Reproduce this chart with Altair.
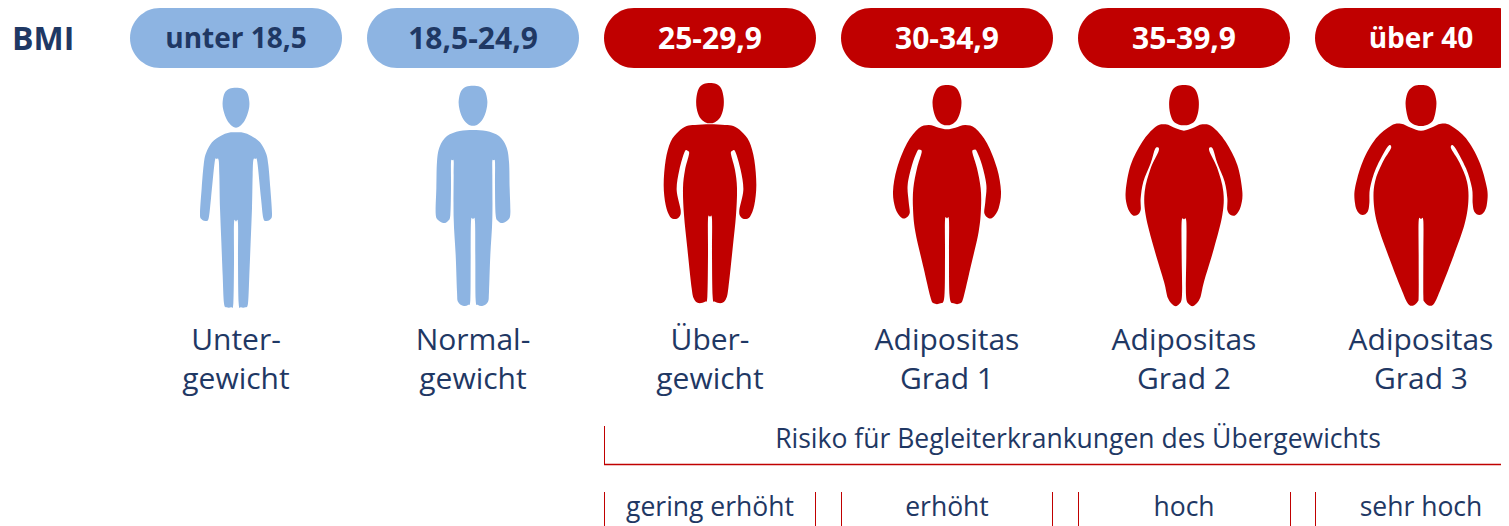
import altair as alt
import pandas as pd

NAVY = "#1F3864"
BLUE = "#8DB4E2"
RED = "#C00000"
FONT = "Open Sans"

# ---- values ----
bmi_labels = ["unter 18,5", "18,5-24,9", "25-29,9", "30-34,9", "35-39,9", "über 40"]
bmi_font_sizes = [28, 30, 30, 30, 30, 28]
class_line1 = ["Unter-", "Normal-", "Über-", "Adipositas", "Adipositas", "Adipositas"]
class_line2 = ["gewicht", "gewicht", "gewicht", "Grad 1", "Grad 2", "Grad 3"]
groups = ["u", "n", "ue", "a1", "a2", "a3"]
centers = [236, 473, 710, 947, 1184, 1421]
pill_half = 106
pill_colors = [BLUE, BLUE, RED, RED, RED, RED]
label_colors = [NAVY, NAVY, "#FFFFFF", "#FFFFFF", "#FFFFFF", "#FFFFFF"]
risk_labels = ["gering erhöht", "erhöht", "hoch", "sehr hoch"]
risk_centers = [710, 947, 1184, 1421]
risk_ticks = [604.5, 815.5, 841.5, 1052.5, 1078.5, 1290.5, 1315.5]
risk_title = "Risiko für Begleiterkrankungen des Übergewichts"

# ---- pictogram outlines: right half profile (offset from axis, height) in 1/3 px ----
heads = {
    "u": [(0,38),(20,41),(34,54),(40,80),(38,105),(27,135),(12,153),(0,158)],
    "n": [(0,32),(21,35),(36,49),(43,78),(40,105),(29,133),(13,149),(0,152)],
    "ue": [(0,24),(19,27),(34,41),(41,70),(40,100),(31,127),(15,142),(0,145)],
    "a1": [(0,30),(19,33),(34,47),(43,75),(41,105),(31,133),(15,148),(0,151)],
    "a2": [(0,30),(20,33),(36,47),(44,75),(43,108),(33,137),(15,149),(0,151)],
    "a3": [(0,30),(21,33),(38,49),(46,78),(44,108),(35,138),(15,151),(0,153)],
}
bodies = {
    "u": [(0,172),(22,173),(45,182),(72,202),(90,235),(97,270),(103,340),(108,415),(104,432),(92,438),(82,430),
          (75,370),(64,262),(58,252),(52,256),(50,300),(48,400),(44,500),(40,600),(36,685),(28,697),
          (15,697),(8,685),(6,560),(6,445),(0,440)],
    "n": [(0,165),(40,168),(78,183),(100,215),(108,260),(110,340),(112,415),(105,435),(88,444),(75,438),
          (68,420),(66,340),(66,262),(62,256),(58,258),(58,300),(58,430),(52,540),(48,650),(45,680),
          (30,692),(15,690),(8,675),(7,560),(6,440),(0,433)],
    "ue": [(0,148),(45,150),(70,153),(95,170),(118,200),(133,255),(139,330),(133,390),(120,425),(105,432),(92,425),
           (88,405),(100,345),(92,285),(76,230),(66,228),(63,238),(75,285),(81,340),(78,420),(68,520),
           (55,640),(48,672),(35,684),(15,680),(8,665),(6,540),(6,432),(0,425)],
    "a1": [(0,163),(25,158),(55,150),(85,160),(120,205),(150,280),(162,350),(155,400),(140,425),(125,430),
           (112,415),(115,380),(118,330),(105,270),(90,230),(82,224),(76,232),(90,280),(101,340),(102,400),
           (95,470),(70,580),(50,665),(40,685),(20,685),(8,665),(6,540),(6,436),(0,430)],
    "a2": [(0,167),(25,160),(55,148),(85,155),(125,200),(160,270),(175,350),(170,395),(155,420),(140,420),
           (130,405),(130,370),(122,320),(100,265),(88,225),(80,217),(76,228),(100,280),(118,350),(115,420),
           (90,520),(60,620),(48,670),(30,692),(15,688),(6,660),(7,540),(7,440),(0,433)],
    "a3": [(0,167),(30,158),(60,146),(90,152),(135,190),(175,260),(198,340),(198,385),(190,410),(175,420),
           (160,410),(155,385),(153,340),(135,280),(100,215),(90,220),(115,262),(138,320),(142,380),(130,450),
           (95,550),(60,640),(40,685),(25,692),(10,680),(7,660),(7,540),(7,438),(0,432)],
}


def closed_smooth(points):
    """Closed Catmull-Rom outline as an SVG path string, centred vertically on 300."""
    n = len(points)
    pts = [(x, y - 300) for x, y in points]
    d = f"M{pts[0][0]},{pts[0][1]}"
    for i in range(n):
        p0, p1, p2, p3 = pts[i - 1], pts[i], pts[(i + 1) % n], pts[(i + 2) % n]
        c1 = (p1[0] + (p2[0] - p0[0]) / 6, p1[1] + (p2[1] - p0[1]) / 6)
        c2 = (p2[0] - (p3[0] - p1[0]) / 6, p2[1] - (p3[1] - p1[1]) / 6)
        d += f"C{c1[0]:.1f},{c1[1]:.1f} {c2[0]:.1f},{c2[1]:.1f} {p2[0]},{p2[1]}"
    return d + "Z"


def mirrored(profile):
    left = [(-x, y) for x, y in reversed(profile) if x != 0]
    return closed_smooth(profile + left)


figure_paths = [mirrored(heads[g]) + mirrored(bodies[g]) for g in groups]

# ---- tables ----
pills = pd.DataFrame({
    "label": bmi_labels, "x": [c - pill_half for c in centers], "x2": [c + pill_half for c in centers],
    "cx": centers, "fill": pill_colors, "ink": label_colors, "top": 8, "bottom": 68, "mid": 40,
    "fs": bmi_font_sizes,
})
figures = pd.DataFrame({"group": groups, "cx": centers, "y": 175, "fill": pill_colors})
lines = pd.DataFrame({"cx": centers * 2, "text": class_line1 + class_line2,
                      "y": [341] * 6 + [380] * 6})
risk = pd.DataFrame({"cx": risk_centers, "text": risk_labels, "y": 508})
ticks = pd.DataFrame({"x": risk_ticks, "y": 492, "y2": 526})

X = alt.Scale(domain=[8, 1501], nice=False, zero=False)
Y = alt.Scale(domain=[526, 8], nice=False, zero=False)
xe = lambda f: alt.X(f, type="quantitative", scale=X, axis=None)
ye = lambda f: alt.Y(f, type="quantitative", scale=Y, axis=None)
ident = lambda f: alt.Color(f, type="nominal", scale=None, legend=None)

pill_bars = alt.Chart(pills).mark_bar(cornerRadius=30, clip=True).encode(
    x=xe("x"), x2="x2", y=ye("top"), y2="bottom", color=ident("fill"))
pill_text = alt.Chart(pills).mark_text(font=FONT, fontWeight="bold", baseline="middle").encode(
    x=xe("cx"), y=ye("mid"), text="label:N", color=ident("ink"),
    size=alt.Size("fs:Q", scale=None, legend=None))
bmi = alt.Chart(pd.DataFrame({"x": [12], "y": [40], "t": ["BMI"]})).mark_text(
    font=FONT, fontSize=32, fontWeight="bold", baseline="middle", align="left", color=NAVY).encode(
    x=xe("x"), y=ye("y"), text="t:N")
people = alt.Chart(figures).mark_point(filled=True, size=4 / 9, opacity=1).encode(
    x=xe("cx"), y=ye("y"), color=ident("fill"),
    shape=alt.Shape("group:N", scale=alt.Scale(domain=groups, range=figure_paths), legend=None))
class_text = alt.Chart(lines).mark_text(font=FONT, fontSize=30, baseline="middle", color=NAVY).encode(
    x=xe("cx"), y=ye("y"), text="text:N")
risk_head = alt.Chart(pd.DataFrame({"x": [1078], "y": [440], "t": [risk_title]})).mark_text(
    font=FONT, fontSize=26.5, baseline="middle", color=NAVY).encode(x=xe("x"), y=ye("y"), text="t:N")
risk_text = alt.Chart(risk).mark_text(font=FONT, fontSize=26.5, baseline="middle", color=NAVY).encode(
    x=xe("cx"), y=ye("y"), text="text:N")
bracket_v = alt.Chart(pd.DataFrame({"x": [604.5], "y": [426], "y2": [464]})).mark_rule(
    color=RED, strokeWidth=1).encode(x=xe("x"), y=ye("y"), y2="y2")
bracket_h = alt.Chart(pd.DataFrame({"x": [604], "x2": [1501], "y": [464.5]})).mark_rule(
    color=RED, strokeWidth=1.5).encode(x=xe("x"), x2="x2", y=ye("y"))
tick_rules = alt.Chart(ticks).mark_rule(color=RED, strokeWidth=1).encode(x=xe("x"), y=ye("y"), y2="y2")

chart = alt.layer(
    pill_bars, pill_text, bmi, people, class_text, bracket_v, bracket_h, risk_head, tick_rules, risk_text
).properties(
    width=1493, height=518, padding=0, background="white",
    autosize=alt.AutoSizeParams(type="none"),
).configure_view(stroke=None)

chart.save("out.html", embed_options={"renderer": "svg", "actions": False})
